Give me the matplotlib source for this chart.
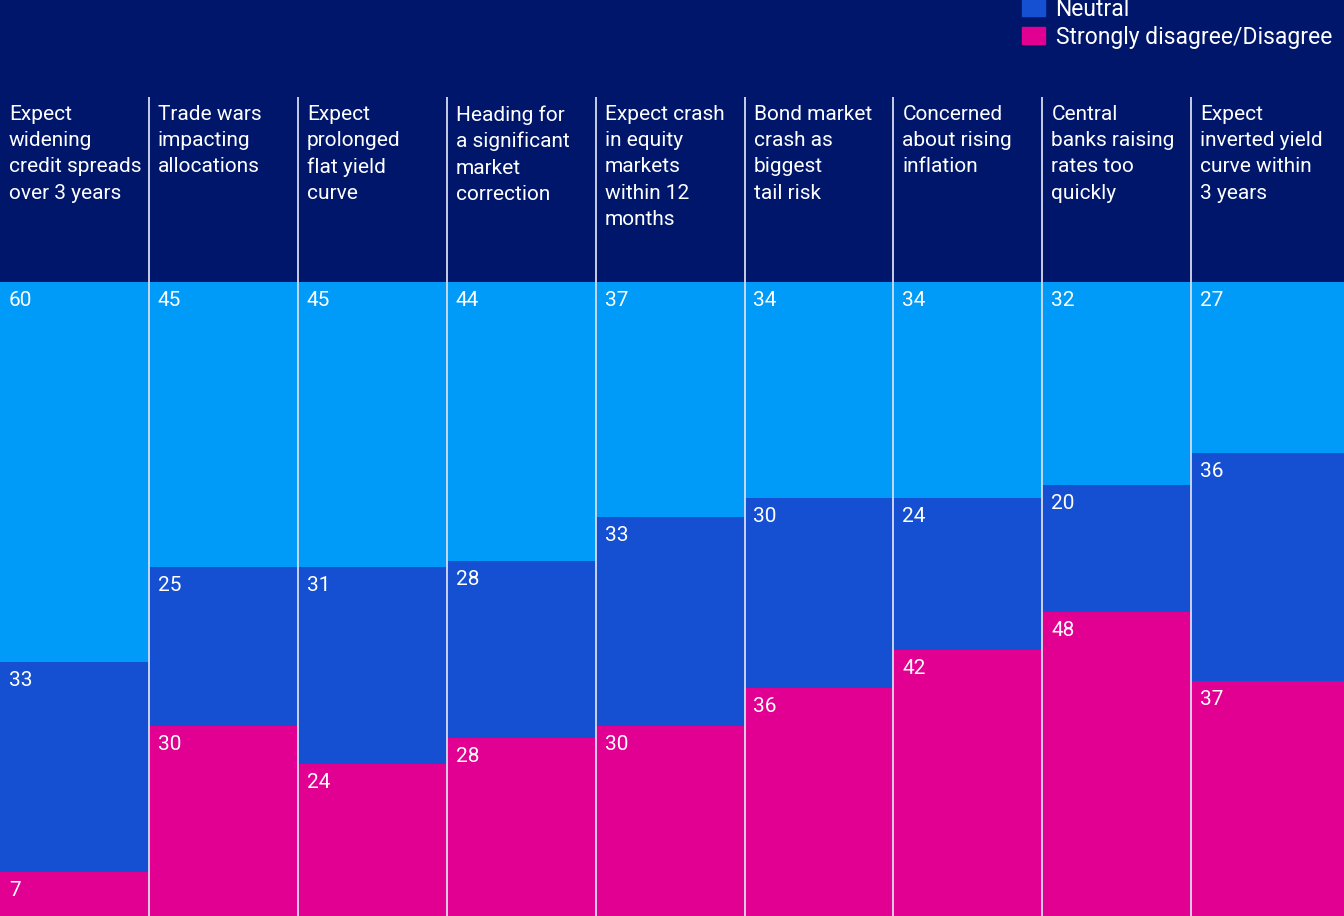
import matplotlib.pyplot as plt
from matplotlib.patches import Patch

plt.rcParams['font.family'] = ['Roboto', 'DejaVu Sans']

categories = [
    "Expect\nwidening\ncredit spreads\nover 3 years",
    "Trade wars\nimpacting\nallocations",
    "Expect\nprolonged\nflat yield\ncurve",
    "Heading for\na significant\nmarket\ncorrection",
    "Expect crash\nin equity\nmarkets\nwithin 12\nmonths",
    "Bond market\ncrash as\nbiggest\ntail risk",
    "Concerned\nabout rising\ninflation",
    "Central\nbanks raising\nrates too\nquickly",
    "Expect\ninverted yield\ncurve within\n3 years",
]
agree = [60, 45, 45, 44, 37, 34, 34, 32, 27]
neutral = [33, 25, 31, 28, 33, 30, 24, 20, 36]
disagree = [7, 30, 24, 28, 30, 36, 42, 48, 37]

bg = '#00166b'
c_agree = '#009bf9'
c_neutral = '#1550d2'
c_disagree = '#e20092'

W, H = 1344, 916
colw = 148.9  # column width in px
fig = plt.figure(figsize=(W / 100, H / 100), dpi=100, facecolor=bg)
ax = fig.add_axes([0, 0, 1, 1])
ax.set_facecolor(bg)

# 100% maps to 634 px of the 916 px figure height
ytop = 100 * H / 634.0
xmax = W / colw
ax.set_xlim(0, xmax)
ax.set_ylim(0, ytop)
ax.axis('off')

n = len(categories)
x = list(range(n))
widths = [1] * (n - 1) + [xmax - (n - 1)]
ax.bar(x, disagree, width=widths, align='edge', color=c_disagree, linewidth=0)
ax.bar(x, neutral, width=widths, align='edge', bottom=disagree, color=c_neutral, linewidth=0)
bot2 = [d + nn for d, nn in zip(disagree, neutral)]
ax.bar(x, agree, width=widths, align='edge', bottom=bot2, color=c_agree, linewidth=0)

# column separators
sep_top = 100 * (H - 97) / 634.0
ax.vlines(x[1:], 0, sep_top, color='#d8dcef', linewidth=1.3)

fs = 15
dx = 9 / colw
dy = 9 / 634.0 * 100
for i in x:
    ax.text(i + dx, 100 - dy, str(agree[i]), color='white', fontsize=fs,
            va='top', ha='left')
    ax.text(i + dx, bot2[i] - dy, str(neutral[i]), color='white', fontsize=fs,
            va='top', ha='left')
    ax.text(i + dx, disagree[i] - dy, str(disagree[i]), color='white', fontsize=fs,
            va='top', ha='left')
    ax.text(i + dx, 100 * (H - 105) / 634.0, categories[i], color='white',
            fontsize=fs, va='top', ha='left', linespacing=1.48)

handles = [Patch(color=c_neutral, label='Neutral'),
           Patch(color=c_disagree, label='Strongly disagree/Disagree')]
leg = fig.legend(handles=handles, loc='upper right', bbox_to_anchor=(1.003, 1.02),
                 frameon=False, fontsize=16.5, handlelength=1.0, handleheight=0.75,
                 handletextpad=0.45, labelspacing=0.22, labelcolor='white',
                 borderaxespad=0.3)

fig.savefig('out.png', dpi=100, facecolor=bg)
